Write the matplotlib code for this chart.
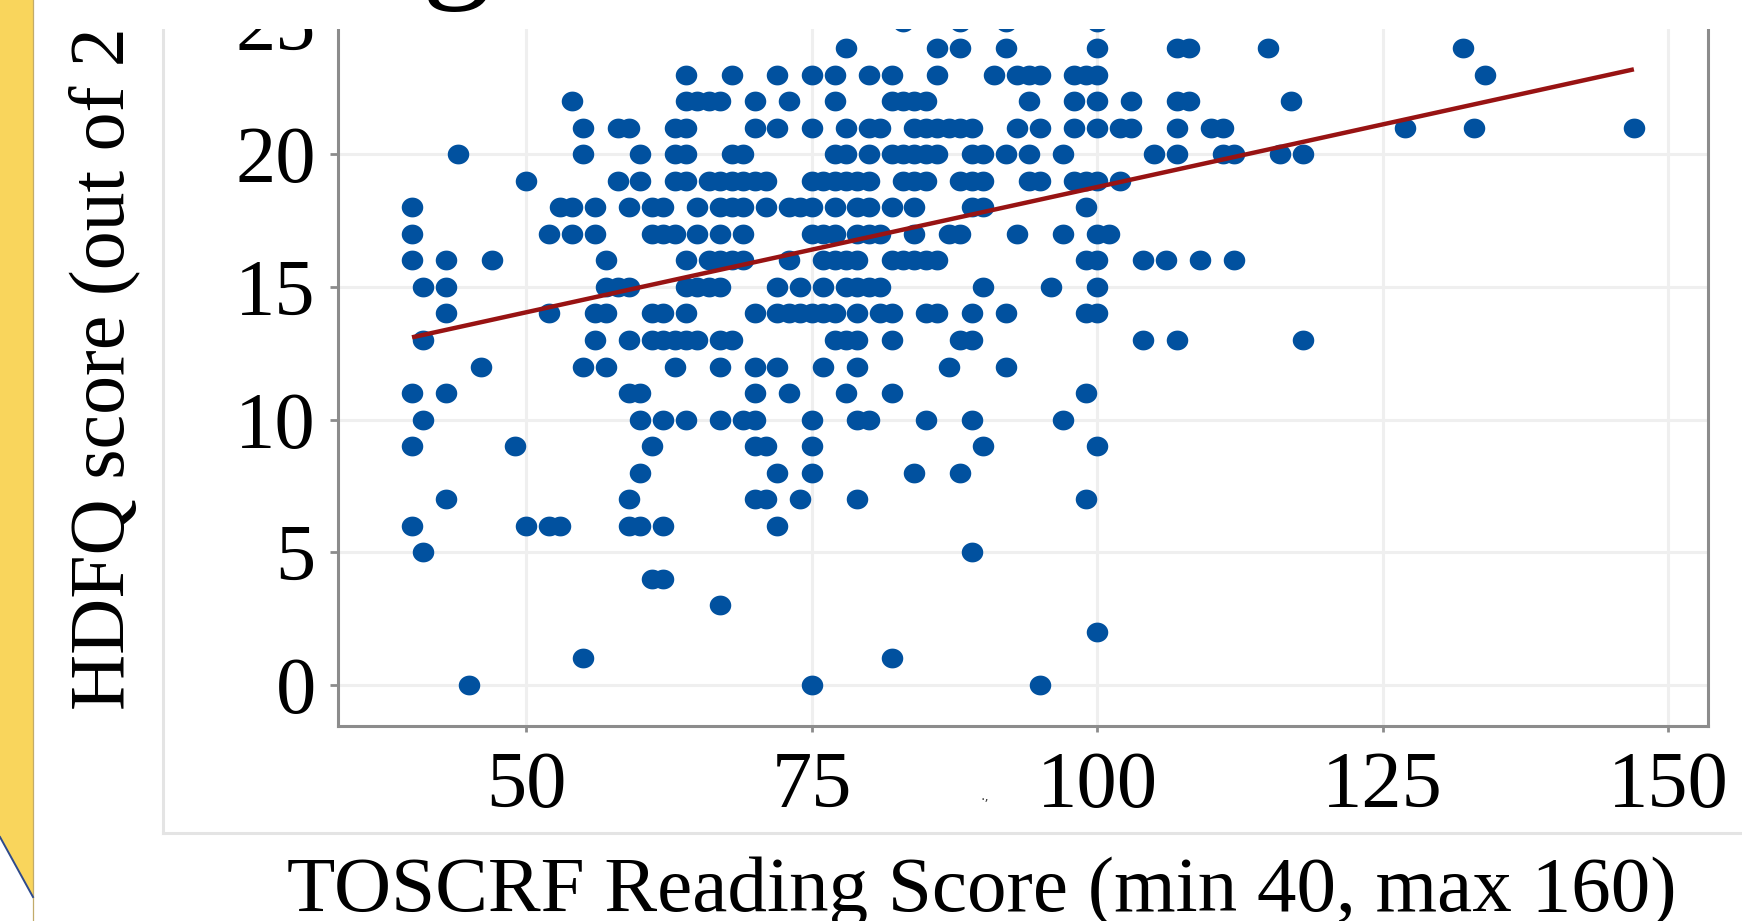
import matplotlib
matplotlib.use("Agg")

import matplotlib.pyplot as plt
import numpy as np
from matplotlib.patches import Rectangle, Polygon
from matplotlib.lines import Line2D
from matplotlib.path import Path

# ── Data: TOSCRF reading score of each child, grouped by HDFQ score ──
x_25 = [83, 88, 92, 100]
x_24 = [78, 86, 88, 92, 100, 107, 108, 115, 132]
x_23 = [64, 68, 72, 75, 77, 80, 82, 86, 91, 93, 94, 95, 98, 99, 100, 134]
x_22 = [54, 64, 65, 66, 67, 70, 73, 77, 82, 83, 84, 85, 94, 98, 100, 103, 107, 108, 117]
x_21 = [55, 58, 59, 63, 64, 70, 72, 75, 78, 80, 81, 84, 85, 86, 87, 88, 89, 93, 95,
        98, 100, 102, 103, 107, 110, 111, 127, 133, 147]
x_20 = [44, 55, 60, 63, 64, 68, 69, 77, 78, 80, 82, 83, 84, 85, 86, 89, 90, 92, 94, 97,
        105, 107, 111, 112, 116, 118]
x_19 = [50, 58, 60, 63, 64, 66, 67, 68, 69, 70, 71, 75, 76, 77, 78, 79, 80, 83, 84, 85,
        88, 89, 90, 94, 95, 98, 99, 100, 102]
x_18 = [40, 53, 54, 56, 59, 61, 62, 65, 67, 68, 69, 71, 73, 74, 75, 77, 79, 80, 82, 84,
        89, 90, 99]
x_17 = [40, 52, 54, 56, 61, 62, 63, 65, 67, 69, 75, 76, 77, 79, 80, 81, 84, 87, 88, 93,
        97, 100, 101]
x_16 = [40, 43, 47, 57, 64, 66, 67, 68, 69, 73, 76, 77, 78, 79, 82, 83, 84, 85, 86, 99,
        100, 104, 106, 109, 112]
x_15 = [41, 43, 57, 58, 59, 64, 65, 66, 67, 72, 74, 76, 78, 79, 80, 81, 90, 96, 100]
x_14 = [43, 52, 56, 57, 61, 62, 64, 70, 72, 73, 74, 75, 76, 77, 79, 81, 82, 85, 86, 89,
        92, 99, 100]
x_13 = [41, 56, 59, 61, 62, 63, 64, 65, 67, 68, 77, 78, 79, 82, 88, 89, 104, 107, 118]
x_12 = [46, 55, 57, 63, 67, 70, 72, 76, 79, 87, 92]
x_11 = [40, 43, 59, 60, 70, 73, 78, 82, 99]
x_10 = [41, 60, 62, 64, 67, 69, 70, 75, 79, 80, 85, 89, 97]
x_9 = [40, 49, 61, 70, 71, 75, 90, 100]
x_8 = [60, 72, 75, 84, 88]
x_7 = [43, 59, 70, 71, 74, 79, 99]
x_6 = [40, 50, 52, 53, 59, 60, 62, 72]
x_5 = [41, 89]
x_4 = [61, 62]
x_3 = [67]
x_2 = [100]
x_1 = [55, 82]
x_0 = [45, 75, 95]

hdfq_rows = {25: x_25, 24: x_24, 23: x_23, 22: x_22, 21: x_21, 20: x_20, 19: x_19,
             18: x_18, 17: x_17, 16: x_16, 15: x_15, 14: x_14, 13: x_13, 12: x_12,
             11: x_11, 10: x_10, 9: x_9, 8: x_8, 7: x_7, 6: x_6, 5: x_5, 4: x_4,
             3: x_3, 2: x_2, 1: x_1, 0: x_0}

# fitted line end points
fit_x = [40, 147]
fit_y = [13.1, 23.2]

x_ticks = [50, 75, 100, 125, 150]
y_ticks = [0, 5, 10, 15, 20, 25]

x_label = "TOSCRF Reading Score (min 40, max 160)"
y_label = "HDFQ score (out of 25)"

SERIF = ["Liberation Serif", "DejaVu Serif"]
W, H = 1742, 921


def fx(px):
    return px / W


def fy(py):
    return 1 - py / H


toscrf = [x for level in hdfq_rows for x in hdfq_rows[level]]
hdfq = [level for level in hdfq_rows for _ in hdfq_rows[level]]

fig = plt.figure(figsize=(W / 100, H / 100), dpi=100)
fig.patch.set_facecolor("white")

# ── Plot panel ──
ax = fig.add_axes([fx(338), fy(726), (1708 - 338) / W, (726 + 19.6) / H])
ax.set_facecolor("white")

t = np.linspace(0, 2 * np.pi, 64)
dot = Path(np.column_stack([np.cos(t), 0.92 * np.sin(t)]))
ax.scatter(toscrf, hdfq, s=240, marker=dot, color="#01519f", linewidths=0, zorder=3)
ax.plot(fit_x, fit_y, color="#981313", linewidth=3.2, solid_capstyle="butt", zorder=4)

ax.set_xlim(33.52, 153.49)
ax.set_ylim(-1.545, 26.55)
ax.set_xticks(x_ticks)
ax.set_yticks(y_ticks)

ax.grid(True, color="#efefef", linewidth=2.2)
ax.set_axisbelow(True)

for side in ["left", "bottom", "right", "top"]:
    ax.spines[side].set_color("#8c8c8c")
    ax.spines[side].set_linewidth(2.2)

ax.tick_params(axis="y", length=6, width=2.0, color="#8c8c8c", pad=10,
               labelsize=58, labelcolor="black")
ax.tick_params(axis="x", length=4, width=2.0, color="#8c8c8c", pad=14,
               labelsize=58, labelcolor="black")
for lab in ax.get_xticklabels() + ax.get_yticklabels():
    lab.set_family(SERIF)

# ── Slide decorations around the chart image ──
fig.add_artist(Line2D([fx(163), fx(163)], [fy(833), 1.0], transform=fig.transFigure,
                      color="#e4e4e4", linewidth=2.2, zorder=1))
fig.add_artist(Line2D([fx(163), 1.0], [fy(833), fy(833)], transform=fig.transFigure,
                      color="#e4e4e4", linewidth=2.2, zorder=1))

fig.text(fx(123), fy(710), y_label, rotation=90, rotation_mode="anchor",
         ha="left", va="baseline", fontsize=56, family=SERIF, color="black", zorder=2)
fig.text(fx(982), fy(911), x_label, ha="center", va="baseline",
         fontsize=57, family=SERIF, color="black", zorder=2)
fig.text(fx(985), fy(800), ".,", ha="center", va="baseline", fontsize=10,
         color="#444444", zorder=2)

# white title box covering the top of the chart
fig.add_artist(Rectangle((fx(33), fy(29)), 1 - fx(33), 29 / H + 0.01,
                         transform=fig.transFigure, facecolor="white",
                         edgecolor="none", zorder=4))
fig.text(fx(457), fy(-18), "g", ha="center", va="baseline", fontsize=100,
         family=SERIF, color="black", zorder=5)

# yellow side bar with cut corner
fig.add_artist(Polygon([(0, 1), (fx(33), 1), (fx(33), fy(897)), (0, fy(837))],
                       closed=True, transform=fig.transFigure, facecolor="#f9d55c",
                       edgecolor="none", zorder=5))
fig.add_artist(Line2D([fx(33), fx(33)], [0, 1], transform=fig.transFigure,
                      color="#c2ab6a", linewidth=0.9, zorder=6))
fig.add_artist(Line2D([0, fx(33)], [fy(837), fy(897)], transform=fig.transFigure,
                      color="#2e4a8c", linewidth=1.4, zorder=6))

fig.savefig("out.png", dpi=100, facecolor=fig.get_facecolor())
plt.close(fig)
